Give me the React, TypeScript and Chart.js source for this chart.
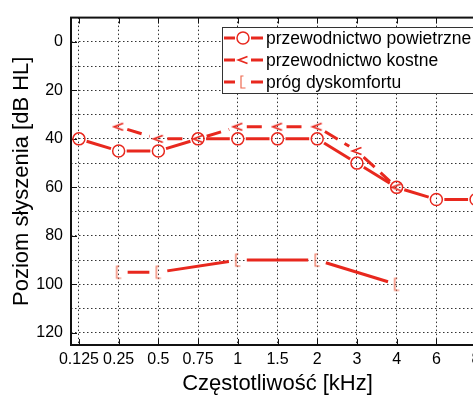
import React, { useEffect, useRef } from 'react';
import { Chart, registerables } from 'chart.js';

Chart.register(...registerables);

const categories = ['0.125', '0.25', '0.5', '0.75', '1', '1.5', '2', '3', '4', '6', '8'];
const airConduction: (number | null)[] = [40, 45, 45, 40, 40, 40, 40, 50, 60, 65, 65];
const boneConduction: (number | null)[] = [null, 35, 40, 40, 35, 35, 35, 45, 60, null, null];
const discomfortThreshold: (number | null)[] = [null, 95, 95, null, 90, null, 90, null, 100, null, null];
const yTickValues = [0, 10, 20, 30, 40, 50, 60, 70, 80, 90, 100, 110, 120];
const seriesNames = ['przewodnictwo powietrzne', 'przewodnictwo kostne', 'próg dyskomfortu'];
const xTitle = 'Częstotliwość [kHz]';
const yTitle = 'Poziom słyszenia [dB HL]';

const RED = '#e8281e';
const FONT = '"Liberation Sans", Arial, Helvetica, sans-serif';

function makeChevron(): HTMLCanvasElement {
  const c = document.createElement('canvas');
  c.width = 14;
  c.height = 12;
  const ctx = c.getContext('2d')!;
  ctx.strokeStyle = RED;
  ctx.lineWidth = 1.8;
  ctx.beginPath();
  ctx.moveTo(11.5, 2.5);
  ctx.lineTo(2.5, 6);
  ctx.lineTo(11.5, 9.5);
  ctx.stroke();
  return c;
}

function makeBracket(): HTMLCanvasElement {
  const c = document.createElement('canvas');
  c.width = 10;
  c.height = 16;
  const ctx = c.getContext('2d')!;
  ctx.strokeStyle = '#ee6a50';
  ctx.lineWidth = 1.2;
  ctx.beginPath();
  ctx.moveTo(5.5, 2);
  ctx.lineTo(3, 2);
  ctx.lineTo(3, 14);
  ctx.lineTo(7.5, 14);
  ctx.stroke();
  return c;
}

const toPoints = (arr: (number | null)[]) =>
  arr.map((v, i) => (v == null ? null : { x: i, y: v })).filter((p) => p !== null) as { x: number; y: number }[];

const gapLines = {
  id: 'gapLines',
  beforeDatasetsDraw(chart: any) {
    const ctx = chart.ctx;
    const a = chart.chartArea;
    ctx.save();
    ctx.beginPath();
    ctx.rect(a.left, a.top, a.right - a.left, a.bottom - a.top);
    ctx.clip();
    chart.data.datasets.forEach((ds: any, di: number) => {
      const meta = chart.getDatasetMeta(di);
      const g = ds.gap || 0;
      ctx.strokeStyle = RED;
      ctx.lineWidth = 3;
      ctx.lineCap = 'butt';
      ctx.setLineDash(ds.dash || []);
      for (let i = 0; i < meta.data.length - 1; i++) {
        const p = meta.data[i];
        const q = meta.data[i + 1];
        const dx = q.x - p.x;
        const dy = q.y - p.y;
        const L = Math.hypot(dx, dy);
        if (L <= 2 * g) continue;
        const ux = dx / L;
        const uy = dy / L;
        ctx.beginPath();
        ctx.moveTo(p.x + ux * g, p.y + uy * g);
        ctx.lineTo(q.x - ux * g, q.y - uy * g);
        ctx.stroke();
      }
    });
    ctx.restore();
  },
};

const frame = {
  id: 'frame',
  beforeDatasetsDraw(chart: any) {
    const ctx = chart.ctx;
    const a = chart.chartArea;
    const xs = chart.scales.x;
    const ys = chart.scales.y;
    ctx.save();
    ctx.strokeStyle = '#111';
    ctx.lineWidth = 1;
    ctx.setLineDash([]);
    categories.forEach((_, i) => {
      const x = Math.round(xs.getPixelForValue(i)) + 0.5;
      ctx.beginPath();
      ctx.moveTo(x, a.bottom);
      ctx.lineTo(x, a.bottom - 6);
      ctx.moveTo(x, a.top);
      ctx.lineTo(x, a.top + 6);
      ctx.stroke();
    });
    yTickValues.forEach((v) => {
      if (v % 20 !== 0) return;
      const y = Math.round(ys.getPixelForValue(v)) + 0.5;
      ctx.beginPath();
      ctx.moveTo(a.left, y);
      ctx.lineTo(a.left + 6, y);
      ctx.stroke();
    });
    ctx.lineWidth = 2;
    ctx.strokeRect(a.left, a.top, a.right - a.left, a.bottom - a.top);
    ctx.restore();
  },
};

const legendBox = {
  id: 'legendBox',
  afterDraw(chart: any) {
    const ctx = chart.ctx;
    const bx = 222;
    const by = 27;
    const bw = 300;
    const bh = 66;
    ctx.save();
    ctx.fillStyle = '#fff';
    ctx.fillRect(bx, by, bw, bh);
    ctx.strokeStyle = '#333';
    ctx.lineWidth = 1;
    ctx.strokeRect(bx + 0.5, by + 0.5, bw, bh);
    const rows = [38, 60, 82];
    const markers = [null, makeChevron(), makeBracket()];
    rows.forEach((y, i) => {
      ctx.strokeStyle = RED;
      ctx.lineWidth = 3;
      ctx.beginPath();
      ctx.moveTo(224, y);
      ctx.lineTo(235, y);
      ctx.moveTo(251, y);
      ctx.lineTo(263, y);
      ctx.stroke();
      if (i === 0) {
        ctx.lineWidth = 1.5;
        ctx.beginPath();
        ctx.arc(243, y, 6, 0, Math.PI * 2);
        ctx.stroke();
      } else {
        const m = markers[i] as HTMLCanvasElement;
        ctx.drawImage(m, 243 - m.width / 2, y - m.height / 2);
      }
      ctx.fillStyle = '#000';
      ctx.font = `17.5px ${FONT}`;
      ctx.textBaseline = 'middle';
      ctx.textAlign = 'left';
      ctx.fillText(seriesNames[i], 266, y + 1);
    });
    ctx.restore();
  },
};

export default function App() {
  const ref = useRef<HTMLCanvasElement | null>(null);

  useEffect(() => {
    if (!ref.current) return;
    const chevron = makeChevron();
    const bracket = makeBracket();
    const chart = new Chart(ref.current, {
      type: 'line',
      data: {
        datasets: [
          {
            label: seriesNames[0],
            data: toPoints(airConduction),
            showLine: false,
            pointStyle: 'circle',
            pointRadius: 6,
            pointBorderWidth: 1.5,
            pointBorderColor: RED,
            pointBackgroundColor: 'rgba(0,0,0,0)',
            borderColor: RED,
            gap: 8,
            dash: [],
          } as any,
          {
            label: seriesNames[1],
            data: toPoints(boneConduction),
            showLine: false,
            pointStyle: chevron,
            borderColor: RED,
            gap: 9,
            dash: [15, 8],
          } as any,
          {
            label: seriesNames[2],
            data: toPoints(discomfortThreshold),
            showLine: false,
            pointStyle: bracket,
            borderColor: RED,
            gap: 9,
            dash: [],
          } as any,
        ],
      },
      options: {
        responsive: false,
        animation: false,
        devicePixelRatio: 1,
        layout: { padding: { top: 14, right: 16, left: 0, bottom: 0 } },
        plugins: { legend: { display: false }, tooltip: { enabled: false } },
        scales: {
          x: {
            type: 'linear',
            min: -0.2,
            max: 10.2,
            afterBuildTicks: (scale: any) => {
              scale.ticks = categories.map((_, i) => ({ value: i }));
            },
            afterFit: (scale: any) => {
              scale.height = 56;
            },
            ticks: {
              autoSkip: false,
              maxRotation: 0,
              padding: 5,
              color: '#000',
              font: { family: FONT, size: 16 },
              callback: (v: any) => categories[v] ?? '',
            },
            grid: { color: '#333', lineWidth: 1, drawTicks: false, tickLength: 0 },
            border: { display: false, dash: [1.5, 2.5] },
            title: {
              display: true,
              text: xTitle,
              color: '#000',
              font: { family: FONT, size: 22 },
              padding: { top: 0, bottom: 4 },
            },
          },
          y: {
            type: 'linear',
            reverse: true,
            min: -10,
            max: 125,
            afterBuildTicks: (scale: any) => {
              scale.ticks = yTickValues.map((v) => ({ value: v }));
            },
            afterFit: (scale: any) => {
              scale.width = 71;
            },
            ticks: {
              autoSkip: false,
              padding: 8,
              color: '#000',
              font: { family: FONT, size: 16 },
              callback: (v: any) => (Number(v) % 20 === 0 ? String(v) : ''),
            },
            grid: { color: '#333', lineWidth: 1, drawTicks: false, tickLength: 0 },
            border: { display: false, dash: [1.5, 2.5] },
            title: {
              display: true,
              text: yTitle,
              color: '#000',
              font: { family: FONT, size: 22 },
              padding: { top: 9, bottom: 0 },
            },
          },
        },
      } as any,
      plugins: [frame, gapLines, legendBox],
    });
    return () => chart.destroy();
  }, []);

  return (
    <div
      style={{
        position: 'fixed',
        left: 0,
        top: 0,
        width: 473,
        height: 401,
        overflow: 'hidden',
        background: '#fff',
      }}
    >
      <canvas ref={ref} width={500} height={401} style={{ display: 'block' }} />
    </div>
  );
}
